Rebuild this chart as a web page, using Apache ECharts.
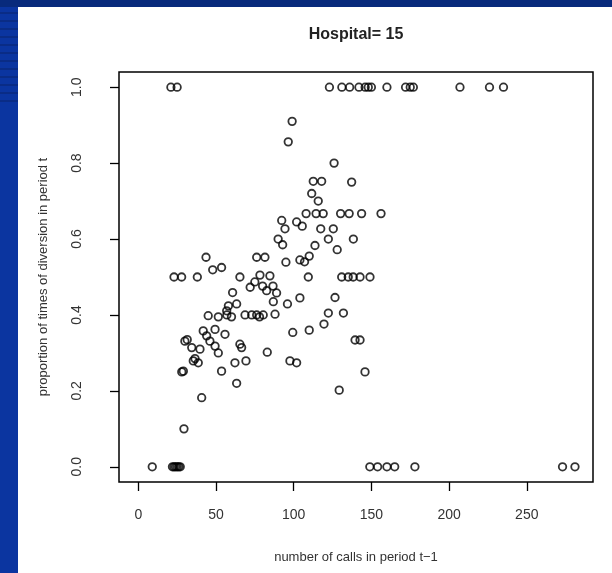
<!DOCTYPE html>
<html>
<head>
<meta charset="utf-8">
<script src="https://cdn.jsdelivr.net/npm/echarts@6/dist/echarts.min.js"></script>
<style>
html,body{margin:0;padding:0;background:#0b35a0;}
#chart{width:612px;height:573px;}
</style>
</head>
<body>
<div id="chart"></div>
<script>
// number of calls in period t-1 (x) and proportion of times of diversion in period t (y)
const callsAtOne = [21, 25, 123, 131, 136, 142, 146, 148, 150, 160, 172, 175, 177, 207, 226, 235];
const callsAtZero = [9, 22, 23, 24, 25, 26, 27, 149, 154, 160, 165, 178, 273, 281];
const callsMid = [
  99, 96.5, 126, 112.6, 118, 137.3, 111.6, 115.8,
  108, 114.4, 119, 130.2, 135.7, 143.7, 156.2,
  92.3, 94.4, 101.9, 105.5, 117.4, 125.5, 90, 92.9, 122.3, 138.4, 113.7, 128, 110, 104, 107,
  43.6, 76.2, 81.5, 95, 47.9, 53.6,
  23, 27.9, 38, 65.4, 78.3, 84.7, 109.4, 130.9, 135.1, 138.3, 142.7, 149.1,
  75, 72, 80, 86.7, 82.6, 89, 60.7, 86.9, 96, 104, 126.6, 58, 63.3, 56.9, 88,
  45, 51.5, 57, 60, 68.7, 73, 76.2, 78, 80.4, 122.3, 132,
  99.4, 110, 119.5, 41.8, 44, 49.4, 55.8, 30, 31.5, 34.4, 39.7, 46.1, 49.4, 51.5,
  65.4, 66.5, 83, 35.4, 36.5, 38.6, 62.2, 69.3, 97.6, 101.9,
  29, 28, 53.6, 63.3, 40.8, 29.4, 139.5, 142.7, 145.9, 129.3
];
const propMid = [
  0.91, 0.856, 0.80, 0.752, 0.752, 0.75, 0.72, 0.70,
  0.667, 0.667, 0.667, 0.667, 0.667, 0.667, 0.667,
  0.649, 0.627, 0.645, 0.634, 0.627, 0.627, 0.60, 0.585, 0.60, 0.60, 0.583, 0.572, 0.555, 0.545, 0.54,
  0.552, 0.552, 0.552, 0.539, 0.519, 0.525,
  0.50, 0.50, 0.50, 0.50, 0.505, 0.503, 0.50, 0.50, 0.50, 0.50, 0.50, 0.50,
  0.487, 0.473, 0.476, 0.476, 0.464, 0.458, 0.459, 0.435, 0.429, 0.445, 0.446, 0.424, 0.429, 0.411, 0.402,
  0.398, 0.395, 0.40, 0.395, 0.40, 0.40, 0.40, 0.395, 0.40, 0.405, 0.405,
  0.354, 0.36, 0.376, 0.358, 0.345, 0.362, 0.349, 0.331, 0.335, 0.314, 0.31, 0.331, 0.318, 0.30,
  0.323, 0.314, 0.302, 0.279, 0.285, 0.274, 0.274, 0.279, 0.279, 0.274,
  0.252, 0.25, 0.252, 0.22, 0.182, 0.10, 0.334, 0.334, 0.25, 0.202
];
const xTicks = [0, 50, 100, 150, 200, 250];
const yTicks = [0, 0.2, 0.4, 0.6, 0.8, 1.0];
const titleText = 'Hospital= 15';
const xName = 'number of calls in period t\u22121';
const yName = 'proportion of times of diversion in period t';

const points = [];
callsAtOne.forEach(v => points.push([v, 1]));
callsAtZero.forEach(v => points.push([v, 0]));
callsMid.forEach((v, i) => points.push([v, propMid[i]]));

const chart = echarts.init(document.getElementById('chart'), null, {renderer: 'canvas'});
const stripes = [];
for (let yy = 12; yy <= 104; yy += 8) {
  stripes.push({type: 'rect', z: -9, shape: {x: 0, y: yy, width: 18, height: 2}, style: {fill: '#0a2c86'}});
}
chart.setOption({
  backgroundColor: '#0b35a0',
  animation: false,
  graphic: [
    {type: 'rect', z: -10, shape: {x: 0, y: 0, width: 612, height: 7}, style: {fill: '#082a7c'}},
    {type: 'rect', z: -10, shape: {x: 18, y: 7, width: 594, height: 566}, style: {fill: '#ffffff'}}
  ].concat(stripes),
  title: {
    text: titleText,
    left: 356,
    textAlign: 'center',
    top: 27,
    padding: 0,
    textStyle: {fontFamily: 'Liberation Sans, Arial, sans-serif', fontWeight: 'bold', fontSize: 16, color: '#222'}
  },
  grid: {
    left: 119, top: 72, width: 474, height: 410,
    show: true, borderColor: '#000', borderWidth: 1.5, backgroundColor: 'transparent',
    containLabel: false
  },
  xAxis: {
    type: 'value', min: -12.4, max: 292.6,
    name: xName, nameLocation: 'middle', nameGap: 69,
    nameTextStyle: {fontFamily: 'Liberation Sans, Arial, sans-serif', fontSize: 13, color: '#333'},
    axisLine: {show: false, onZero: false},
    splitLine: {show: false},
    axisTick: {show: true, inside: false, length: 9, customValues: xTicks, lineStyle: {color: '#000', width: 1.3}},
    axisLabel: {customValues: xTicks, margin: 26, fontFamily: 'Liberation Sans, Arial, sans-serif', fontSize: 14, color: '#333'}
  },
  yAxis: {
    type: 'value', min: -0.04, max: 1.04,
    name: yName, nameLocation: 'middle', nameGap: 69,
    nameTextStyle: {fontFamily: 'Liberation Sans, Arial, sans-serif', fontSize: 13, color: '#333'},
    axisLine: {show: false, onZero: false},
    splitLine: {show: false},
    axisTick: {show: true, inside: false, length: 9, customValues: yTicks, lineStyle: {color: '#000', width: 1.3}},
    axisLabel: {customValues: yTicks, rotate: 90, margin: 35, formatter: v => v.toFixed(1),
      fontFamily: 'Liberation Sans, Arial, sans-serif', fontSize: 14, color: '#333'}
  },
  series: [{
    type: 'scatter',
    data: points,
    symbol: 'circle',
    symbolSize: 7.5,
    itemStyle: {color: 'rgba(0,0,0,0)', borderColor: '#000', borderWidth: 1.8},
    emphasis: {disabled: true}
  }]
});
</script>
</body>
</html>
